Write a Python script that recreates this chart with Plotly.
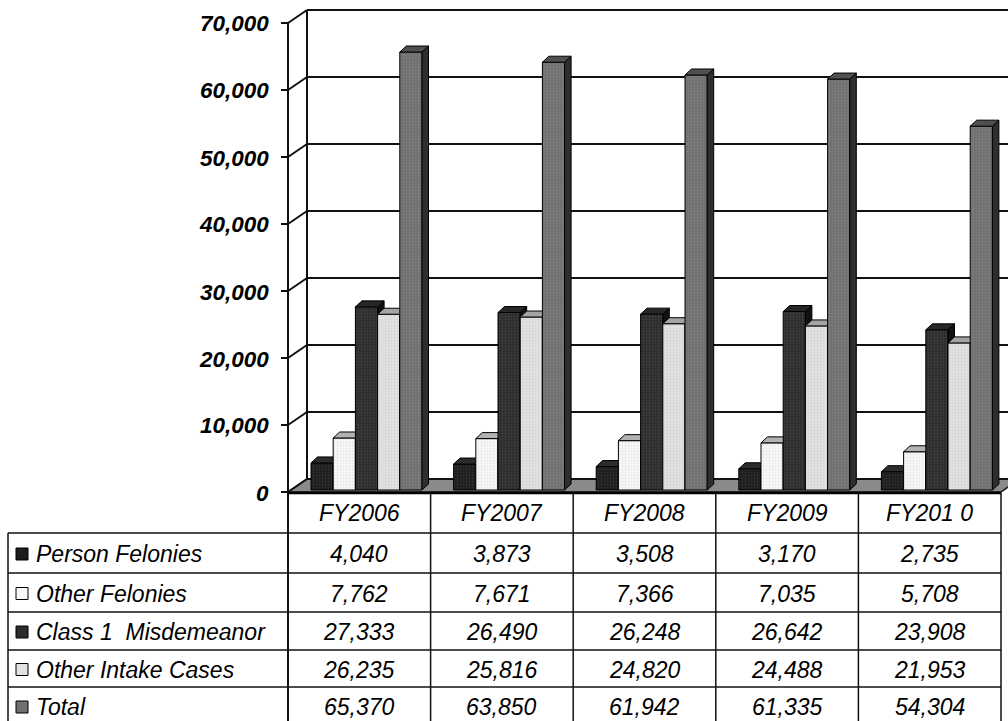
import plotly.graph_objects as go

# ---------------- data ----------------
years = ["FY2006", "FY2007", "FY2008", "FY2009", "FY201 0"]
series_names = ["Person Felonies", "Other Felonies", "Class 1  Misdemeanor",
                "Other Intake Cases", "Total"]
person_felonies = [4040, 3873, 3508, 3170, 2735]
other_felonies = [7762, 7671, 7366, 7035, 5708]
class1_misdemeanor = [27333, 26490, 26248, 26642, 23908]
other_intake_cases = [26235, 25816, 24820, 24488, 21953]
total_cases = [65370, 63850, 61942, 61335, 54304]
y_ticks = [0, 10000, 20000, 30000, 40000, 50000, 60000, 70000]
y_tick_labels = ["0", "10,000", "20,000", "30,000", "40,000", "50,000", "60,000", "70,000"]

series_values = [person_felonies, other_felonies, class1_misdemeanor,
                 other_intake_cases, total_cases]

# face colours: front, top, side, dot texture
styles = [
    dict(front="#1c1c1c", top="#2c2c2c", side="#0c0c0c", dot="#4a4a4a"),
    dict(front="#f8f8f8", top="#b2b2b2", side="#cfcfcf", dot="#d2d2d2"),
    dict(front="#2c2c2c", top="#262626", side="#111111", dot="#555555"),
    dict(front="#e2e2e2", top="#a4a4a4", side="#8c8c8c", dot="#c4c4c4"),
    dict(front="#707070", top="#505050", side="#2e2e2e", dot="#8e8e8e"),
]

# ---------------- geometry (pixels) ----------------
W, H = 1008, 721
COL_LEFT = 288.0          # left edge of first category column / front axis
COL_W = 142.6             # width of one category column
GROUP_LEFT = 23.0         # first bar offset inside a column
BAR_PX = 22.2             # bar width
BAR_ZERO = 490.0          # pixel row of value 0 for the bars
PPU = 67.0 / 10000        # pixels per unit value
FRONT_ZERO, BACK_ZERO = 492.0, 479.0
FRONT_X, BACK_X = 288.0, 307.0
DEPTH_X, DEPTH_Y = 6.5, 6.0   # bar 3-D depth offset

x_range = [(0 - COL_LEFT) / COL_W, (W - COL_LEFT) / COL_W]
y_range = [(BAR_ZERO - H) / PPU, BAR_ZERO / PPU]
bw = BAR_PX / COL_W
ddx = DEPTH_X / COL_W
ddy = DEPTH_Y / PPU


def px(xp):
    return xp / W


def py(yp):
    return 1 - yp / H


fig = go.Figure()

# bars: each series on its own overlaid y axis so the next series' front
# face is painted over the previous series' side face
for j, (name, vals, st) in enumerate(zip(series_names, series_values, styles)):
    yname = "y" if j == 0 else f"y{j + 1}"
    xs = [i + (GROUP_LEFT + BAR_PX * (j + 0.5)) / COL_W for i in range(len(years))]
    side_x, side_y, top_x, top_y = [], [], [], []
    for xc, v in zip(xs, vals):
        xl, xr = xc - bw / 2, xc + bw / 2
        side_x += [xr, xr + ddx, xr + ddx, xr, xr, None]
        side_y += [0, ddy, v + ddy, v, 0, None]
        top_x += [xl, xl + ddx, xr + ddx, xr, xl, None]
        top_y += [v, v + ddy, v + ddy, v, v, None]
    fig.add_trace(go.Bar(
        x=xs, y=vals, width=bw, name=name, xaxis="x", yaxis=yname,
        marker=dict(color=st["front"], line=dict(color="#000000", width=1),
                    pattern=dict(shape=".", fgcolor=st["dot"], size=3, solidity=0.3)),
        showlegend=False, hoverinfo="skip"))
    fig.add_trace(go.Scatter(
        x=side_x, y=side_y, mode="lines", fill="toself", fillcolor=st["side"],
        line=dict(color="#000000", width=1), xaxis="x", yaxis=yname,
        showlegend=False, hoverinfo="skip"))
    fig.add_trace(go.Scatter(
        x=top_x, y=top_y, mode="lines", fill="toself", fillcolor=st["top"],
        line=dict(color="#000000", width=1), xaxis="x", yaxis=yname,
        showlegend=False, hoverinfo="skip"))

shapes = []
LINE = dict(color="#111111", width=2)


def seg(x0, y0, x1, y1, line=LINE, layer="below"):
    shapes.append(dict(type="line", xref="paper", yref="paper",
                       x0=px(x0), y0=py(y0), x1=px(x1), y1=py(y1),
                       line=line, layer=layer))


# floor
floor_pts = [(FRONT_X, FRONT_ZERO), (1001, FRONT_ZERO), (1001 + 19, BACK_ZERO), (BACK_X, BACK_ZERO)]
path = "M " + " L ".join(f"{px(a):.5f},{py(b):.5f}" for a, b in floor_pts) + " Z"
shapes.append(dict(type="path", xref="paper", yref="paper", path=path,
                   fillcolor="#8a8a8a", line=dict(color="#111111", width=1.5), layer="below"))

# back wall gridlines, side wall diagonals and tick marks
for v in y_ticks:
    yb = BACK_ZERO - v * PPU
    yf = FRONT_ZERO - v * PPU
    seg(BACK_X, yb, W + 30, yb)
    seg(FRONT_X, yf, BACK_X, yb)
    seg(FRONT_X - 7, yf, FRONT_X, yf)

top_front = FRONT_ZERO - y_ticks[-1] * PPU
top_back = BACK_ZERO - y_ticks[-1] * PPU
seg(FRONT_X, top_front, FRONT_X, H + 5)
seg(BACK_X, top_back, BACK_X, BACK_ZERO)

# data table grid
row_lines = [533, 573, 612, 650, 687]
col_edges = [COL_LEFT + COL_W * k for k in range(len(years) + 1)]
seg(FRONT_X, 493, col_edges[-1], 493, line=dict(color="#000000", width=2.5), layer="above")
for r in row_lines:
    seg(8, r, col_edges[-1], r, line=dict(color="#111111", width=1.5), layer="above")
seg(8, row_lines[0], 8, H + 5, line=dict(color="#111111", width=1.5), layer="above")
for e in col_edges[1:]:
    seg(e, 493, e, H + 5, line=dict(color="#111111", width=1.5), layer="above")

annotations = []
FONT = "Liberation Sans, Arial, sans-serif"
TABLE_SIZE = 23

# y tick labels
for v, lab in zip(y_ticks, y_tick_labels):
    annotations.append(dict(
        text=lab, xref="paper", yref="paper", x=px(271), y=py(FRONT_ZERO - v * PPU + 1),
        xanchor="right", yanchor="middle", showarrow=False,
        font=dict(family=FONT, size=22.5, color="#000000", style="italic", weight="bold")))

# category header row
for k, yr in enumerate(years):
    annotations.append(dict(
        text=yr, xref="paper", yref="paper",
        x=px((col_edges[k] + col_edges[k + 1]) / 2), y=py(513),
        xanchor="center", yanchor="middle", showarrow=False,
        font=dict(family=FONT, size=TABLE_SIZE, color="#000000", style="italic")))

# table body: legend key, series name and values
row_bounds = row_lines + [725]
for j, (name, vals, st) in enumerate(zip(series_names, series_values, styles)):
    yc = (row_bounds[j] + row_bounds[j + 1]) / 2 + 1
    shapes.append(dict(type="rect", xref="paper", yref="paper",
                       x0=px(16), x1=px(28), y0=py(yc + 6), y1=py(yc - 6),
                       fillcolor=st["front"], line=dict(color="#000000", width=1), layer="above"))
    annotations.append(dict(
        text=name.replace("  ", "&nbsp; "), xref="paper", yref="paper", x=px(34), y=py(yc),
        xanchor="left", yanchor="middle", showarrow=False,
        font=dict(family=FONT, size=TABLE_SIZE, color="#000000", style="italic")))
    for k, v in enumerate(vals):
        annotations.append(dict(
            text=f"{v:,}", xref="paper", yref="paper",
            x=px((col_edges[k] + col_edges[k + 1]) / 2), y=py(yc),
            xanchor="center", yanchor="middle", showarrow=False,
            font=dict(family=FONT, size=TABLE_SIZE, color="#000000", style="italic")))

layout_axes = dict(
    xaxis=dict(range=x_range, domain=[0, 1], visible=False, fixedrange=True),
    yaxis=dict(range=y_range, domain=[0, 1], visible=False, fixedrange=True),
)
for j in range(1, len(series_names)):
    layout_axes[f"yaxis{j + 1}"] = dict(range=y_range, overlaying="y",
                                         visible=False, fixedrange=True)

fig.update_layout(
    width=W, height=H,
    margin=dict(l=0, r=0, t=0, b=0),
    paper_bgcolor="#ffffff", plot_bgcolor="rgba(0,0,0,0)",
    barmode="overlay", showlegend=False,
    shapes=shapes, annotations=annotations,
    **layout_axes,
)

fig.write_html("out.html")
